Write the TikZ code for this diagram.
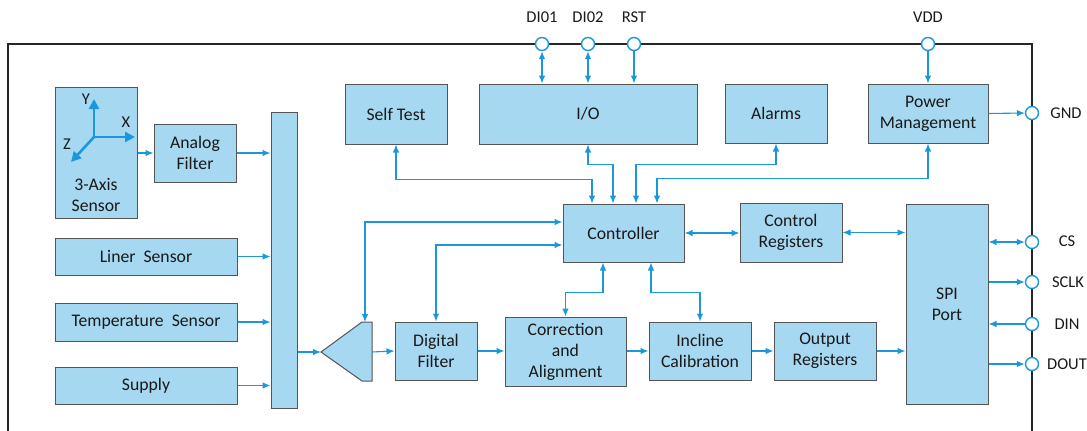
\documentclass[tikz,border=0pt]{standalone}
\usepackage{fontspec}
\setmainfont{Carlito}
\usetikzlibrary{arrows.meta,calc}
\definecolor{boxfill}{RGB}{166,216,241}
\definecolor{boxline}{RGB}{85,85,85}
\definecolor{lnblue}{RGB}{27,152,220}
\definecolor{txt}{RGB}{25,25,25}
\begin{document}
\begin{tikzpicture}[x=1pt,y=-1pt,
  blk/.style={draw=boxline, fill=boxfill, line width=1pt, align=center, inner sep=0pt, text=txt, font=\fontsize{17.7}{21}\selectfont},
  con/.style={draw=lnblue, line width=1.1pt, -{Latex[length=8pt,width=6.5pt]}},
  dcon/.style={draw=lnblue, line width=1.1pt, {Latex[length=8pt,width=6.5pt]}-{Latex[length=8pt,width=6.5pt]}},
  pin/.style={circle, draw=lnblue, fill=white, line width=1.4pt, minimum size=13pt, inner sep=0pt},
  pinlab/.style={font=\fontsize{16.5}{19}\selectfont, text=txt},
  axisarr/.style={draw=lnblue, line width=2.6pt, -{Triangle[length=10pt,width=10pt]}}]
\useasboundingbox (0,0) rectangle (1087,431);
% outer frame
\draw[line width=1.5pt, draw=black!85] (8,431) -- (8,44) -- (1032,44) -- (1032,431);

% blocks
\node[blk, minimum width=82pt, minimum height=131pt] (sensor3) at (96,152.5) {};
\node[blk, minimum width=82pt, minimum height=58pt] (afilt) at (195,153) {Analog\\Filter};
\node[blk, minimum width=26pt, minimum height=296pt] (mux) at (284,260) {};
\node[blk, minimum width=182pt, minimum height=37pt] (liner) at (146,256.5) {Liner~~Sensor};
\node[blk, minimum width=182pt, minimum height=38pt] (temp) at (146,322) {Temperature~~Sensor};
\node[blk, minimum width=182pt, minimum height=37pt] (supply) at (146,385.5) {Supply};
\node[blk, minimum width=82pt, minimum height=58pt] (dfilt) at (436,351) {Digital\\Filter};
\node[blk, minimum width=121pt, minimum height=69pt] (corr) at (565.5,351.5) {Correction\\and\\Alignment};
\node[blk, minimum width=102pt, minimum height=58pt] (incl) at (700,351) {Incline\\Calibration};
\node[blk, minimum width=102pt, minimum height=58pt] (outreg) at (825,351) {Output\\Registers};
\node[blk, minimum width=82pt, minimum height=200pt] (spi) at (947,304) {SPI\\Port};
\node[blk, minimum width=102pt, minimum height=59pt] (ctrlreg) at (791,232.5) {Control\\Registers};
\node[blk, minimum width=121pt, minimum height=58pt] (ctrl) at (623.5,233) {Controller};
\node[blk, minimum width=102pt, minimum height=60pt] (selft) at (396,114) {Self Test};
\node[blk, minimum width=218pt, minimum height=60pt] (io) at (588,114) {I/O};
\node[blk, minimum width=102pt, minimum height=59pt] (alarms) at (776,113.5) {Alarms};
\node[blk, minimum width=120pt, minimum height=59pt] (pwr) at (928,113.5) {Power\\Management};

% amplifier
\coordinate (amptip) at (321,352);
\coordinate (ampR) at (372,352);
\coordinate (amptop) at (365,322);
\draw[draw=boxline, fill=boxfill, line width=1pt] (amptip) -- (362,322) -- (372,322) -- (372,381) -- (362,381) -- cycle;

% 3-axis sensor icon and text
\coordinate (ax0) at (94,137);
\draw[axisarr] (ax0) -- (94,99);
\draw[axisarr] (ax0) -- (135,137);
\draw[axisarr] (ax0) -- (71,162);
\node[pinlab] (ylab) at (86,99) {Y};
\node[pinlab] (xlab) at (126,122) {X};
\node[pinlab] (zlab) at (67,144) {Z};
\node[align=center, text=txt, font=\fontsize{17.7}{21}\selectfont] (s3text) at (96,195) {3-Axis\\Sensor};

% pins
\node[pin] (di1) at (542,44) {};
\node[pin] (di2) at (588,44) {};
\node[pin] (rst) at (634,44) {};
\node[pin] (vdd) at (928,44) {};
\node[pin] (gnd) at (1032,113) {};
\node[pin] (cs) at (1032,242) {};
\node[pin] (sclk) at (1032,282) {};
\node[pin] (din) at (1032,324) {};
\node[pin] (dout) at (1032,364) {};
\node[pinlab] (di1l) at (542,17) {DI01};
\node[pinlab] (di2l) at (588,17) {DI02};
\node[pinlab] (rstl) at (634,17) {RST};
\node[pinlab] (vddl) at (928,17) {VDD};
\node[pinlab] (gndl) at (1066,113) {GND};
\node[pinlab] (csl) at (1067,241) {CS};
\node[pinlab] (sclkl) at (1068,282) {SCLK};
\node[pinlab] (dinl) at (1067,324) {DIN};
\node[pinlab] (doutl) at (1067,364) {DOUT};

% pin connectors
\draw[dcon] (di1.south) -- (io.north -| di1.south);
\draw[dcon] (di2.south) -- (io.north -| di2.south);
\draw[con] (rst.south) -- (io.north -| rst.south);
\draw[con] (vdd.south) -- (pwr.north);
\draw[con] (pwr.east) -- (gnd.west);
\draw[dcon] (spi.east |- cs.west) -- (cs.west);
\draw[con] (spi.east |- sclk.west) -- (sclk.west);
\draw[con] (din.west) -- (spi.east |- din.west);
\draw[con] (spi.east |- dout.west) -- (dout.west);

% sensors to mux
\draw[con] (sensor3.east |- afilt.west) -- (afilt.west);
\draw[con] (afilt.east) -- (mux.west |- afilt.east);
\draw[con] (liner.east) -- (mux.west |- liner.east);
\draw[con] (temp.east) -- (mux.west |- temp.east);
\draw[con] (supply.east) -- (mux.west |- supply.east);

% data path
\draw[con] (mux.east |- amptip) -- (amptip);
\draw[con] (ampR) -- (dfilt.west);
\draw[con] (dfilt.east) -- (corr.west |- dfilt.east);
\draw[con] (corr.east |- incl.west) -- (incl.west);
\draw[con] (incl.east) -- (outreg.west);
\draw[con] (outreg.east) -- (spi.west |- outreg.east);

% controller links
\draw[dcon] (selft.south) -- ++(0,35) -| ([xshift=-31.5pt]ctrl.north);
\draw[dcon] (io.south) -- ++(0,20) -| ([xshift=-10.5pt]ctrl.north);
\draw[dcon] ([xshift=12.5pt]ctrl.north) -- ++(0,-39) -| (alarms.south);
\draw[dcon] ([xshift=33.5pt]ctrl.north) -- ++(0,-25) -| (pwr.south);
\draw[dcon] (amptop) |- ([yshift=11pt]ctrl.west);
\draw[dcon] (dfilt.north) |- ([yshift=-12pt]ctrl.west);
\draw[dcon] ([xshift=-20.5pt]ctrl.south) -- ++(0,30) -| (corr.north);
\draw[dcon] ([xshift=27.5pt]ctrl.south) -- ++(0,30) -| (incl.north);
\draw[dcon] (ctrl.east) -- (ctrlreg.west |- ctrl.east);
\draw[dcon] (ctrlreg.east) -- (spi.west |- ctrlreg.east);
\end{tikzpicture}
\end{document}
